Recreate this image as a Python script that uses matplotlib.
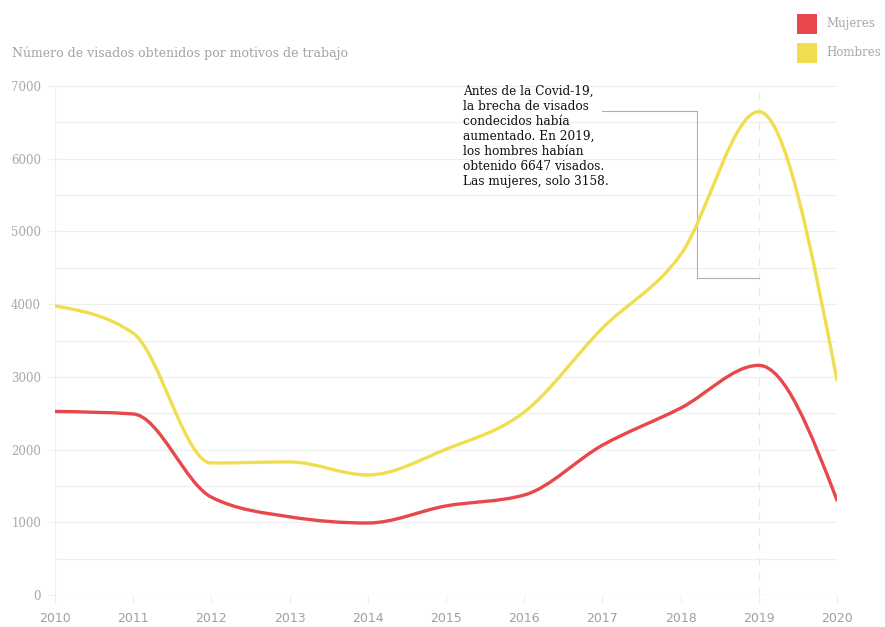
import numpy as np
import matplotlib
matplotlib.use("Agg")
import matplotlib.pyplot as plt
from matplotlib.path import Path
from matplotlib.patches import PathPatch, Rectangle

years = [2010, 2011, 2012, 2013, 2014, 2015, 2016, 2017, 2018, 2019, 2020]
mujeres = [2525, 2490, 1345, 1075, 990, 1225, 1375, 2060, 2570, 3158, 1305]
hombres = [3975, 3600, 1815, 1830, 1650, 2005, 2515, 3670, 4680, 6647, 2955]
yticks = [0, 1000, 2000, 3000, 4000, 5000, 6000, 7000]
title = "Número de visados obtenidos por motivos de trabajo"
note = ("Antes de la Covid-19,\nla brecha de visados\ncondecidos había\n"
        "aumentado. En 2019,\nlos hombres habían\nobtenido 6647 visados.\n"
        "Las mujeres, solo 3158.")
labels = ["Mujeres", "Hombres"]
colors = ["#e8474b", "#f1de50"]

SERIF = ["DejaVu Serif"]


def monotone_path(x, y):
    x = np.asarray(x, float)
    y = np.asarray(y, float)
    n = len(x)
    h = np.diff(x)
    s = np.diff(y) / h
    t = np.zeros(n)
    for i in range(1, n - 1):
        if s[i - 1] * s[i] <= 0:
            t[i] = 0
        else:
            p = (s[i - 1] * h[i] + s[i] * h[i - 1]) / (h[i - 1] + h[i])
            t[i] = (np.sign(s[i - 1]) + np.sign(s[i])) * min(abs(s[i - 1]), abs(s[i]), 0.5 * abs(p))
    t[0] = (3 * s[0] - t[1]) / 2 if n > 2 else s[0]
    t[-1] = (3 * s[-1] - t[-2]) / 2 if n > 2 else s[-1]
    verts = [(x[0], y[0])]
    codes = [Path.MOVETO]
    for i in range(n - 1):
        dx = h[i] / 3
        verts += [(x[i] + dx, y[i] + dx * t[i]), (x[i + 1] - dx, y[i + 1] - dx * t[i + 1]), (x[i + 1], y[i + 1])]
        codes += [Path.CURVE4] * 3
    return Path(verts, codes)


fig = plt.figure(figsize=(8.85, 6.27), dpi=100)
ax = fig.add_axes([55 / 885, 1 - 595 / 627, (837 - 55) / 885, (595 - 86) / 627])
ax.set_xlim(years[0], years[-1])
ax.set_ylim(0, 7000)

for v in np.arange(500, 7001, 500):
    ax.axhline(v, color="#eeeeee", lw=0.8, zorder=0)
ax.axhline(0, color="#e6e6e6", lw=1.0, zorder=0)
ax.axvline(years[0], color="#efefef", lw=0.8, zorder=0)
ax.axvline(2019, color="#e8e8e8", lw=0.9, ls=(0, (6, 6)), zorder=0)

for data, c in zip([mujeres, hombres], colors):
    ax.add_patch(PathPatch(monotone_path(years, data), fill=False, ec=c, lw=2.4,
                           capstyle="round", joinstyle="round", zorder=3))

for s in ax.spines.values():
    s.set_visible(False)
ax.set_xticks(years)
ax.set_xticklabels([str(y) for y in years], fontsize=9, color="#a0a0a0",
                   family=["Liberation Sans Narrow", "DejaVu Sans"])
ax.tick_params(axis="x", length=6, color="#eeeeee", pad=6)
ax.set_yticks(yticks)
ax.set_yticklabels([str(v) for v in yticks], fontsize=8.5, color="#a8a8a8", family=SERIF)
ax.tick_params(axis="y", length=5, color="#eeeeee", pad=5)

fig.text(12 / 885, 1 - 53 / 627, title, fontsize=9.0, color="#a3a3a3", family=SERIF, va="center")

ax.text(2010 + (463 - 55) / 78.2, 7015, note, fontsize=8.7, color="#111111", family=SERIF,
        va="top", ha="left", linespacing=1.2, zorder=4)
xa = 2010 + (602 - 55) / 78.2
xb = 2010 + (697 - 55) / 78.2
ya = (595 - 111) / 72.7 * 1000
yb = (595 - 278) / 72.7 * 1000
ax.plot([xa, xb, xb, 2019], [ya, ya, yb, yb], color="#b0b0b0", lw=0.8, zorder=2)

for i, (lab, c) in enumerate(zip(labels, colors)):
    y0 = 1 - (34 + 29 * i) / 627
    fig.patches.append(Rectangle((797 / 885, y0), 20 / 885, 20 / 627, transform=fig.transFigure,
                                 fc=c, ec="none"))
    fig.text(826 / 885, y0 + 10 / 627, lab, fontsize=8.5, color="#a8a8a8", family=SERIF, va="center")

fig.savefig("out.png", dpi=100)
